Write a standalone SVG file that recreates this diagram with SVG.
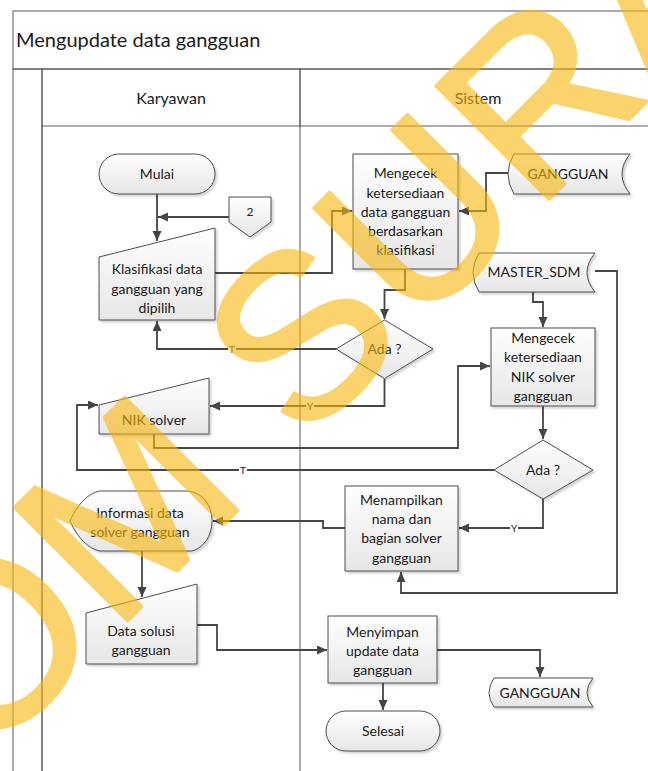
<svg xmlns="http://www.w3.org/2000/svg" width="648" height="771" viewBox="0 0 648 771">
  <style>
    .lane { fill: none; stroke: #595959; stroke-width: 1; }
    .node { stroke: #4d4d4d; stroke-width: 1; fill: url(#nodeFill); filter: url(#shadow); }
    .txt { font-family: Lato, "Open Sans", "Liberation Sans", sans-serif; font-size: 14px; fill: #1a1a1a; text-anchor: middle; }
    .hdr { font-family: Lato, "Open Sans", "Liberation Sans", sans-serif; font-size: 16px; fill: #1a1a1a; text-anchor: middle; }
    .title { font-family: Lato, "Open Sans", "Liberation Sans", sans-serif; font-size: 20px; fill: #1a1a1a; }
    .lbl { font-family: Lato, "Open Sans", "Liberation Sans", sans-serif; font-size: 10px; fill: #1a1a1a; text-anchor: middle; }
    .edge { fill: none; stroke: #454545; stroke-width: 1.8; marker-end: url(#arrow); }
    .mark { font-family: "Liberation Sans", Arial, sans-serif; font-size: 232px; letter-spacing: 4px; fill: #fab70d; stroke: #fab70d; stroke-width: 4; stroke-linejoin: round; opacity: 0.6; }
  </style>
  <defs>
    <linearGradient id="nodeFill" x1="0" y1="0" x2="0" y2="1">
      <stop offset="0" stop-color="#ffffff"/>
      <stop offset="1" stop-color="#e6e6e6"/>
    </linearGradient>
    <linearGradient id="hdrFill" x1="0" y1="0" x2="0" y2="1">
      <stop offset="0" stop-color="#ffffff"/>
      <stop offset="1" stop-color="#ebebeb"/>
    </linearGradient>
    <linearGradient id="stripFill" x1="0" y1="0" x2="1" y2="0">
      <stop offset="0" stop-color="#fafafa"/>
      <stop offset="1" stop-color="#e9e9e9"/>
    </linearGradient>
    <filter id="shadow" x="-10%" y="-10%" width="130%" height="130%">
      <feDropShadow dx="2" dy="2" stdDeviation="1" flood-color="#000" flood-opacity="0.18"/>
    </filter>
    <marker id="arrow" markerUnits="userSpaceOnUse" markerWidth="11" markerHeight="10" refX="10" refY="4.5" orient="auto">
      <path d="M0,0 L10,4.5 L0,9 Z" fill="#454545"/>
    </marker>
  </defs>

  <rect width="648" height="771" fill="#ffffff"/>

  <!-- swimlane frame -->
  <g id="pool">
    <rect x="13" y="11" width="660" height="58" fill="url(#hdrFill)" class="lane"/>
    <text x="16" y="47" class="title">Mengupdate data gangguan</text>
    <rect x="13" y="69" width="29" height="710" fill="url(#stripFill)" class="lane"/>
    <rect x="42" y="69" width="258" height="57" fill="url(#hdrFill)" class="lane"/>
    <rect x="300" y="69" width="373" height="57" fill="url(#hdrFill)" class="lane"/>
    <text x="171" y="104" class="hdr">Karyawan</text>
    <text x="478" y="104" class="hdr">Sistem</text>
    <line x1="42" y1="126" x2="42" y2="771" class="lane"/>
    <line x1="300" y1="126" x2="300" y2="771" class="lane"/>
  </g>

  <!-- connectors -->
  <g id="connectors">
    <path class="edge" d="M157,194 V241"/>
    <path class="edge" d="M229,217 H158"/>
    <path class="edge" d="M215,273 H332 V211 H352"/>
    <path class="edge" d="M508,173 H486 V211 H459"/>
    <path class="edge" d="M405,269 V290 H384.5 V319"/>
    <path class="edge" d="M336,349 H157 V321"/>
    <path class="edge" d="M384.5,378.5 V406 H210"/>
    <path class="edge" d="M154,434 V448 H458 V366 H490"/>
    <path class="edge" d="M533,292 V302 H543 V327"/>
    <path class="edge" d="M543,406 V439"/>
    <path class="edge" d="M494,470 H77 V405 H98"/>
    <path class="edge" d="M543,499 V528 H459"/>
    <path class="edge" d="M595,271 H617 V593 H401 V572"/>
    <path class="edge" d="M345,528 H323 V521 H213"/>
    <path class="edge" d="M142,551 V597"/>
    <path class="edge" d="M197,625 H217 V650 H327"/>
    <path class="edge" d="M437,650 H540 V677"/>
    <path class="edge" d="M383,683 V710"/>
    <!-- branch labels -->
    <rect x="228" y="343" width="8" height="12" fill="#ffffff"/>
    <text x="232" y="353" class="lbl">T</text>
    <rect x="306" y="400" width="8" height="12" fill="#ffffff"/>
    <text x="310" y="410" class="lbl">Y</text>
    <rect x="239" y="464" width="8" height="12" fill="#ffffff"/>
    <text x="243" y="474" class="lbl">T</text>
    <rect x="510" y="522" width="8" height="12" fill="#ffffff"/>
    <text x="514" y="532" class="lbl">Y</text>
  </g>

  <!-- Karyawan lane -->
  <g id="mulai">
    <rect x="99" y="154" width="116" height="40" rx="20" class="node"/>
    <text x="157" y="179" class="txt">Mulai</text>
  </g>
  <g id="offpage-2">
    <path d="M229,197 H271 V222 L250,237 L229,222 Z" class="node"/>
    <text x="250" y="216" class="lbl" style="font-size:12px">2</text>
  </g>
  <g id="klasifikasi">
    <path d="M99,257 L215,228 V320 H99 Z" class="node"/>
    <text class="txt"><tspan x="157" y="274">Klasifikasi data</tspan><tspan x="157" y="294">gangguan yang</tspan><tspan x="157" y="313">dipilih</tspan></text>
  </g>
  <g id="nik-solver">
    <path d="M99,405 L209,378 V434 H99 Z" class="node"/>
    <text x="154" y="425" class="txt">NIK solver</text>
  </g>
  <g id="informasi">
    <path d="M70,521 C78,503 89,493 100,491 H188 C204,493 212,507 212,521 C212,537 203,548 192,551 H100 C89,549 78,539 70,521 Z" class="node"/>
    <text class="txt"><tspan x="140" y="518">Informasi data</tspan><tspan x="140" y="537">solver gangguan</tspan></text>
  </g>
  <g id="data-solusi">
    <path d="M86,613 L197,584 V664 H86 Z" class="node"/>
    <text class="txt"><tspan x="141" y="636">Data solusi</tspan><tspan x="141" y="655">gangguan</tspan></text>
  </g>

  <!-- Sistem lane -->
  <g id="cek-gangguan">
    <rect x="353" y="154" width="105" height="115" class="node"/>
    <text class="txt"><tspan x="405.5" y="178">Mengecek</tspan><tspan x="405.5" y="198">ketersediaan</tspan><tspan x="405.5" y="217">data gangguan</tspan><tspan x="405.5" y="236">berdasarkan</tspan><tspan x="405.5" y="255">klasifikasi</tspan></text>
  </g>
  <g id="db-gangguan">
    <path d="M514,154 H630 Q614,174 630,194 H514 Q502,174 514,154 Z" class="node"/>
    <text x="568" y="179" class="txt">GANGGUAN</text>
  </g>
  <g id="db-master-sdm">
    <path d="M479,253 H595 Q579,272.5 595,292 H479 Q467,272.5 479,253 Z" class="node"/>
    <text x="534" y="277" class="txt">MASTER_SDM</text>
  </g>
  <g id="ada-1">
    <path d="M384.5,320 L433,349 L384.5,378.5 L336,349 Z" class="node"/>
    <text x="384.5" y="354" class="txt">Ada ?</text>
  </g>
  <g id="cek-nik">
    <rect x="491" y="328" width="104" height="78" class="node"/>
    <text class="txt"><tspan x="543" y="343">Mengecek</tspan><tspan x="543" y="362">ketersediaan</tspan><tspan x="543" y="382">NIK solver</tspan><tspan x="543" y="401">gangguan</tspan></text>
  </g>
  <g id="ada-2">
    <path d="M543,440 L593,470 L543,499 L494,470 Z" class="node"/>
    <text x="543" y="475" class="txt">Ada ?</text>
  </g>
  <g id="menampilkan">
    <rect x="345" y="486" width="113" height="85" class="node"/>
    <text class="txt"><tspan x="401.5" y="505">Menampilkan</tspan><tspan x="401.5" y="524">nama dan</tspan><tspan x="401.5" y="543">bagian solver</tspan><tspan x="401.5" y="563">gangguan</tspan></text>
  </g>
  <g id="menyimpan">
    <rect x="328" y="616" width="109" height="67" class="node"/>
    <text class="txt"><tspan x="382.5" y="637">Menyimpan</tspan><tspan x="382.5" y="656">update data</tspan><tspan x="382.5" y="675">gangguan</tspan></text>
  </g>
  <g id="db-gangguan-2">
    <path d="M494,678 H593 Q581,692.5 593,707 H494 Q484,692.5 494,678 Z" class="node"/>
    <text x="540" y="697.5" class="txt">GANGGUAN</text>
  </g>
  <g id="selesai">
    <rect x="326" y="711" width="114" height="40" rx="20" class="node"/>
    <text x="383" y="736" class="txt">Selesai</text>
  </g>

  <!-- watermark -->
  <text class="mark" transform="translate(-392 1140) rotate(-45)" x="0" y="0">STIKOM SURABAYA</text>
</svg>
